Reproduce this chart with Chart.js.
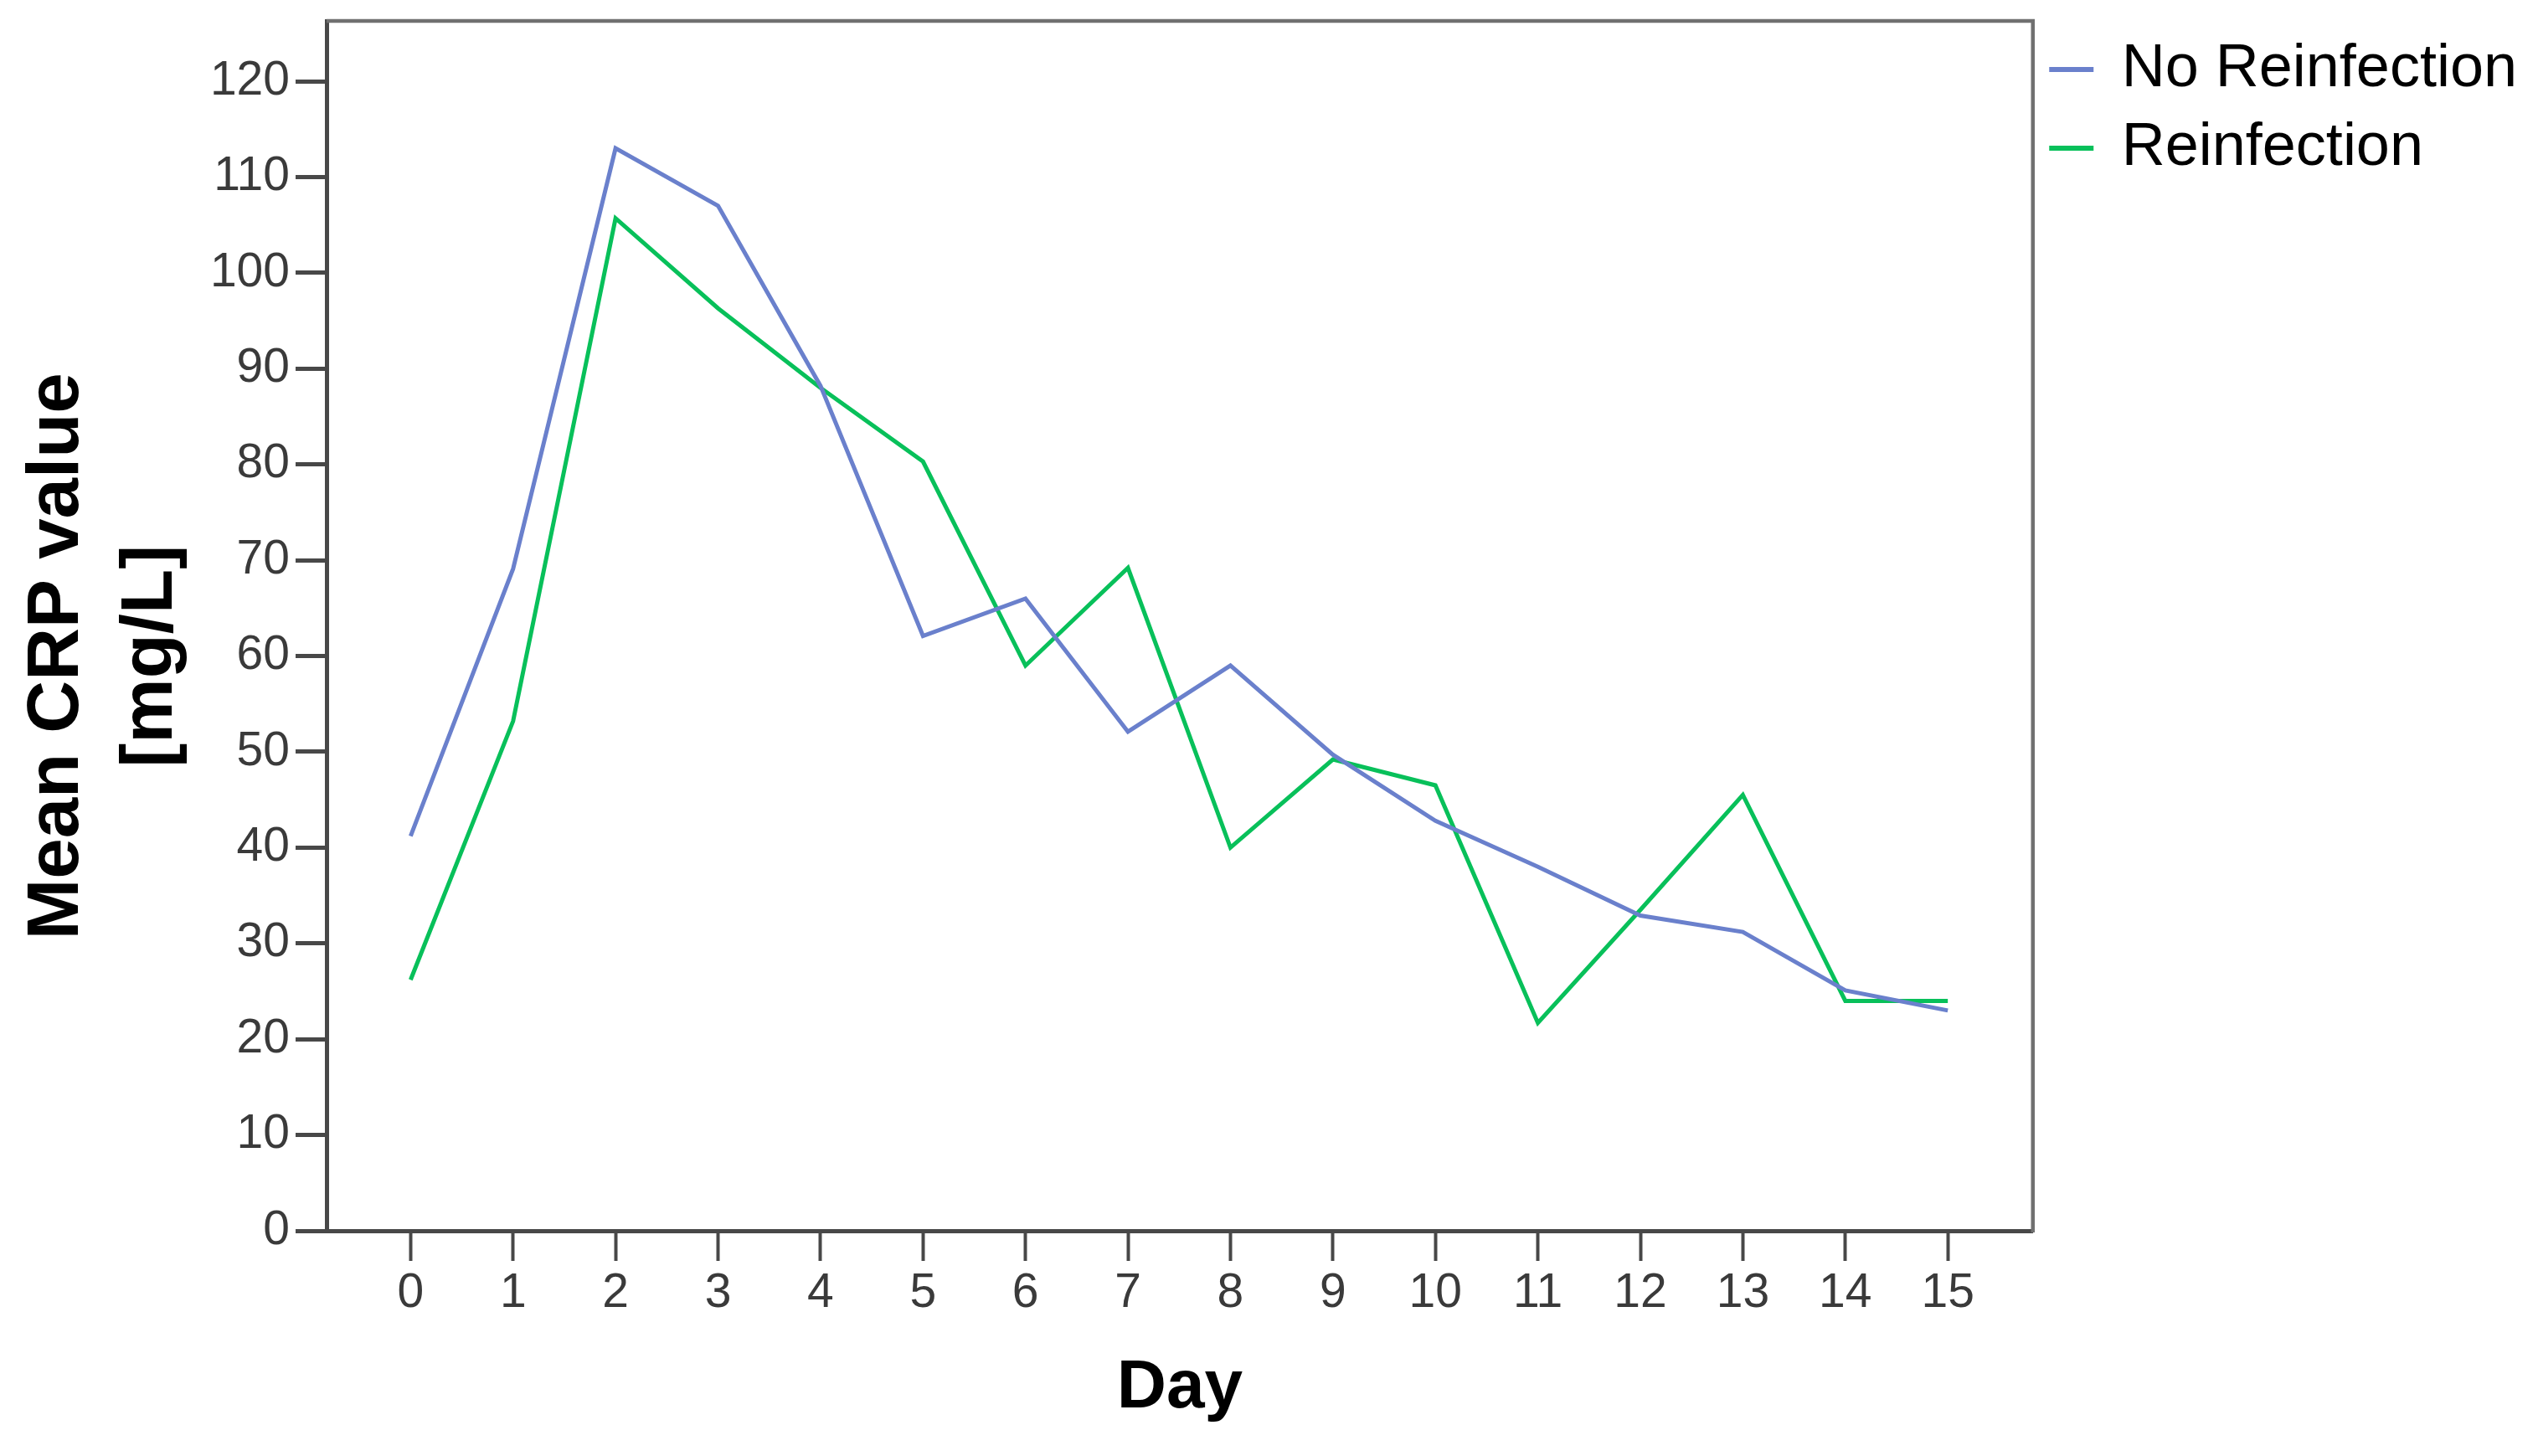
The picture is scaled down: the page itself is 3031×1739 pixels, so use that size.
<!DOCTYPE html>
<html>
<head>
<meta charset="utf-8">
<script src="https://cdn.jsdelivr.net/npm/chart.js@4.4.1/dist/chart.umd.min.js"></script>
<style>
html,body{margin:0;padding:0;background:#fff;overflow:hidden}
canvas{display:block}
</style>
</head>
<body>
<canvas id="c" width="3031" height="1739"></canvas>
<script>
// ---- data ----
const days = [0,1,2,3,4,5,6,7,8,9,10,11,12,13,14,15];
const noReinfection = [41.2, 69.1, 113.0, 107.0, 88.2, 62.1, 66.0, 52.1, 59.0, 49.7, 42.8, 38.0, 32.9, 31.2, 25.1, 23.0];
const reinfection   = [26.2, 53.2, 105.7, 96.3, 88.0, 80.3, 59.0, 69.2, 40.0, 49.2, 46.5, 21.7, 33.5, 45.5, 24.0, 24.0];
const yTickValues = [0,10,20,30,40,50,60,70,80,90,100,110,120];
const seriesNames = ['No Reinfection', 'Reinfection'];
const xTitle = 'Day';
const yTitle = ['Mean CRP value', '[mg/L]'];

const BLUE = '#6a80cc';
const GREEN = '#08c05a';
const AXIS = '#484848';
const FRAME = '#707070';
const FAM = '"Liberation Sans Narrow","Arial Narrow","Liberation Sans",Arial,sans-serif';
const YTICKFONT = {family: FAM, size: 57, lineHeight: 0.5};
const XTICKFONT = {family: FAM, size: 57, lineHeight: 1.2};
const BOLD = {family: '"Liberation Sans",Arial,sans-serif', weight: 'bold'};
const NB = '\u00A0\u00A0\u00A0';

const toPoints = arr => days.map((d, i) => ({x: d, y: arr[i]}));

const framePlugin = {
  id: 'frame',
  afterDraw(chart) {
    const {ctx, chartArea: a} = chart;
    ctx.save();
    ctx.strokeStyle = FRAME;
    ctx.lineWidth = 4.5;
    ctx.beginPath();
    ctx.moveTo(a.left, a.top);
    ctx.lineTo(a.right, a.top);
    ctx.lineTo(a.right, a.bottom + 2);
    ctx.stroke();
    ctx.restore();
  }
};

new Chart(document.getElementById('c'), {
  type: 'line',
  data: {
    datasets: [
      {label: seriesNames[0], data: toPoints(noReinfection), borderColor: BLUE, backgroundColor: BLUE, borderWidth: 5, pointRadius: 0, tension: 0, fill: false},
      {label: seriesNames[1], data: toPoints(reinfection), borderColor: GREEN, backgroundColor: GREEN, borderWidth: 5, pointRadius: 0, tension: 0, fill: false}
    ]
  },
  options: {
    responsive: false,
    devicePixelRatio: 1,
    animation: false,
    events: [],
    layout: {padding: {top: 25, right: 15, left: 0, bottom: 0}},
    plugins: {
      tooltip: {enabled: false},
      legend: {
        position: 'right',
        align: 'start',
        labels: {
          boxWidth: 48,
          boxHeight: 1,
          padding: 22,
          color: '#000',
          font: {family: '"Liberation Sans",Arial,sans-serif', size: 72}
        }
      }
    },
    scales: {
      x: {
        type: 'linear',
        min: -0.82,
        max: 15.83,
        afterBuildTicks: s => { s.ticks = days.map(v => ({value: v})); },
        afterFit: s => { s.height = 269; },
        ticks: {font: XTICKFONT, color: '#3a3a3a', padding: 5, autoSkip: false, maxRotation: 0},
        grid: {display: true, drawOnChartArea: false, drawTicks: true, tickLength: 36, tickWidth: 4, tickColor: AXIS},
        border: {display: true, color: AXIS, width: 5},
        title: {display: true, text: xTitle, color: '#000', font: Object.assign({size: 82, lineHeight: 1.2}, BOLD), padding: {top: 0, bottom: 31}}
      },
      y: {
        type: 'linear',
        min: 0,
        max: 126.3,
        afterBuildTicks: s => { s.ticks = yTickValues.map(v => ({value: v})); },
        afterFit: s => { s.width = 390; },
        ticks: {font: YTICKFONT, color: '#3a3a3a', padding: 7},
        grid: {display: true, drawOnChartArea: false, drawTicks: true, tickLength: 37, tickWidth: 5, tickColor: AXIS},
        border: {display: true, color: AXIS, width: 5},
        title: {display: true, text: yTitle.map(t => t + NB), color: '#000', font: Object.assign({size: 87, lineHeight: 1.29}, BOLD), padding: {top: 13, bottom: 0}}
      }
    }
  },
  plugins: [framePlugin]
});
</script>
</body>
</html>
